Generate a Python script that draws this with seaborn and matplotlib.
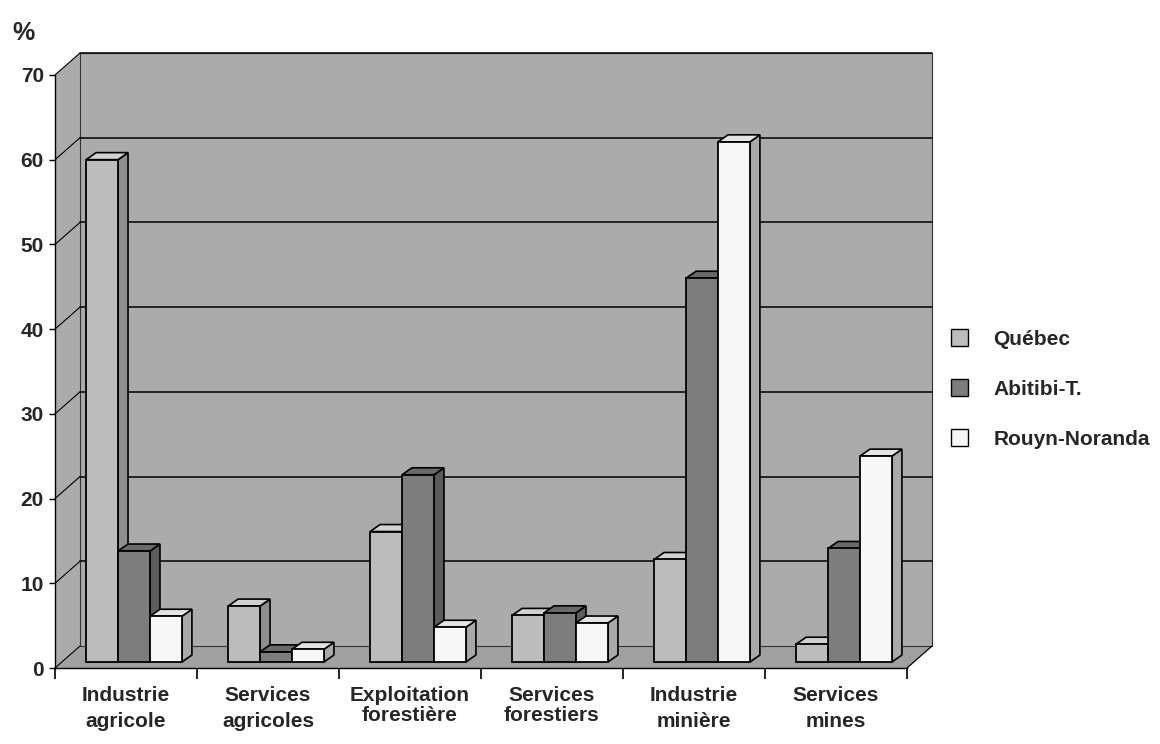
import numpy as np
import pandas as pd
import matplotlib
matplotlib.use("Agg")
import matplotlib.pyplot as plt
import seaborn as sns
from matplotlib.patches import Polygon, Rectangle, Patch
from matplotlib import transforms

# ---- data -------------------------------------------------------------
categories = ["Industrie\nagricole", "Services\nagricoles", "Exploitation\nforestière",
              "Services\nforestiers", "Industrie\nminière", "Services\nmines"]
regions = ["Québec", "Abitibi-T.", "Rouyn-Noranda"]
quebec = [59.3, 6.6, 15.4, 5.5, 12.1, 2.1]
abitibi = [13.1, 1.2, 22.1, 5.8, 45.3, 13.4]
rouyn = [5.4, 1.5, 4.1, 4.6, 61.4, 24.3]
y_ticks = [0, 10, 20, 30, 40, 50, 60, 70]

df = pd.DataFrame({
    "categorie": categories * 3,
    "region": [r for r in regions for _ in categories],
    "valeur": quebec + abitibi + rouyn,
})

# ---- styling ------------------------------------------------------------
sns.set_theme(style="white")
FONT = ["Liberation Sans", "DejaVu Sans"]
plt.rcParams["font.family"] = FONT
plt.rcParams["font.weight"] = "bold"

front_col = {"Québec": "#bcbcbc", "Abitibi-T.": "#7d7d7d", "Rouyn-Noranda": "#f7f7f7"}
side_col = {"Québec": "#8e8e8e", "Abitibi-T.": "#5c5c5c", "Rouyn-Noranda": "#a9a9a9"}
top_col = {"Québec": "#d2d2d2", "Abitibi-T.": "#6a6a6a", "Rouyn-Noranda": "#e4e4e4"}
wall_col = "#ababab"
floor_col = "#a0a0a0"

DPI = 100
fig = plt.figure(figsize=(11.6, 7.44), dpi=DPI)
W, H = 1160, 744
# front plane of the 3D box, in pixels
left_px, right_px, base_px, top_px = 55, 907, 668, 75
ax = fig.add_axes([left_px / W, (H - base_px) / H,
                   (right_px - left_px) / W, (base_px - top_px) / H])
ax.set_facecolor("none")

sns.barplot(data=df, x="categorie", y="valeur", hue="region", order=categories,
            hue_order=regions, palette=front_col, width=0.675, saturation=1,
            edgecolor="black", linewidth=1.3, legend=False, ax=ax)

ax.set_xlim(-0.5, len(categories) - 0.5)
ax.set_ylim(0, 70)

# pixel -> data unit conversions
ux = (len(categories)) / (right_px - left_px)
uy = 70 / (base_px - top_px)

# depth of the box (back wall offset) and of the bars
wall_dx, wall_dy = 25 * ux, 22 * uy
bar_dx, bar_dy = 10 * ux, 7 * uy
bar_tr = transforms.offset_copy(ax.transData, fig=fig, x=8, y=6, units="dots")

x_lo, x_hi = -0.5, len(categories) - 0.5

# floor, left wall and back wall
ax.add_patch(Polygon([(x_lo, 0), (x_hi, 0), (x_hi + wall_dx, wall_dy), (x_lo + wall_dx, wall_dy)],
                     closed=True, facecolor=floor_col, edgecolor="none",
                     zorder=0.4, clip_on=False))
ax.plot([x_hi, x_hi + wall_dx], [0, wall_dy], color="black", lw=0.9, zorder=0.7, clip_on=False)
ax.add_patch(Polygon([(x_lo, 0), (x_lo, 70), (x_lo + wall_dx, 70 + wall_dy), (x_lo + wall_dx, wall_dy)],
                     closed=True, facecolor=wall_col, edgecolor="none",
                     zorder=0.4, clip_on=False))
ax.add_patch(Rectangle((x_lo + wall_dx, wall_dy), x_hi - x_lo, 70,
                       facecolor=wall_col, edgecolor="#333333", lw=0.8,
                       zorder=0.5, clip_on=False))

# gridlines on the back wall and their continuation on the left wall
for t in y_ticks:
    if t > 0:
        ax.plot([x_lo + wall_dx, x_hi + wall_dx], [t + wall_dy, t + wall_dy],
                color="black", lw=1.1, zorder=0.6, clip_on=False)
    ax.plot([x_lo, x_lo + wall_dx], [t, t + wall_dy], color="black", lw=0.8,
            zorder=0.6, clip_on=False)

# 3D bars: front faces come from seaborn, add side and top faces
bars = []
for region, cont in zip(regions, ax.containers):
    for bar in cont:
        bars.append((bar.get_x(), bar, region))
bars.sort(key=lambda b: b[0])
for k, (x0, bar, region) in enumerate(bars):
    w, h = bar.get_width(), bar.get_height()
    z = 3 + 0.01 * k
    bar.set_transform(bar_tr)
    bar.set_zorder(z + 0.003)
    bar.set_clip_on(False)
    side = Polygon([(x0 + w, 0), (x0 + w + bar_dx, bar_dy), (x0 + w + bar_dx, h + bar_dy), (x0 + w, h)],
                   closed=True, facecolor=side_col[region], edgecolor="black", lw=1.2,
                   transform=bar_tr, zorder=z + 0.001, clip_on=False)
    top = Polygon([(x0, h), (x0 + w, h), (x0 + w + bar_dx, h + bar_dy), (x0 + bar_dx, h + bar_dy)],
                  closed=True, facecolor=top_col[region], edgecolor="black", lw=1.2,
                  transform=bar_tr, zorder=z + 0.002, clip_on=False)
    ax.add_patch(side)
    ax.add_patch(top)

# axes, ticks and labels
sns.despine(ax=ax, top=True, right=True)
for s in ("left", "bottom"):
    ax.spines[s].set_color("black")
    ax.spines[s].set_linewidth(1.0)
    ax.spines[s].set_zorder(5)

ax.set_yticks(y_ticks)
ax.set_yticklabels([str(t) for t in y_ticks], fontsize=15, fontweight="bold")
ax.tick_params(axis="y", direction="out", length=4, width=1, color="black", pad=4, left=True)

ax.set_xticks(range(len(categories)))
ax.set_xticklabels(categories, fontsize=15, fontweight="bold", linespacing=1.45)
ax.set_xticks(np.arange(len(categories) + 1) - 0.5, minor=True)
ax.tick_params(axis="x", which="major", length=0, pad=13)
ax.tick_params(axis="x", which="minor", direction="out", length=8, width=1.2,
               color="black", bottom=True)
for lbl in ax.get_xticklabels():
    if lbl.get_text().startswith(("Exploitation", "Services\nforestiers")):
        lbl.set_linespacing(1.05)
ax.set_xlabel("")
ax.set_ylabel("")

fig.text(12 / W, 1 - 40 / H, "%", fontsize=18, fontweight="bold")

handles = [Patch(facecolor=front_col[r], edgecolor="black", lw=1.0, label=r) for r in regions]
fig.legend(handles=handles, loc="upper left", bbox_to_anchor=(932 / W, 1 - 310 / H),
           frameon=False, handlelength=0.85, handleheight=0.9,
           handletextpad=1.2, labelspacing=1.45, prop={"weight": "bold", "size": 15})

fig.savefig("out.png", dpi=DPI)
